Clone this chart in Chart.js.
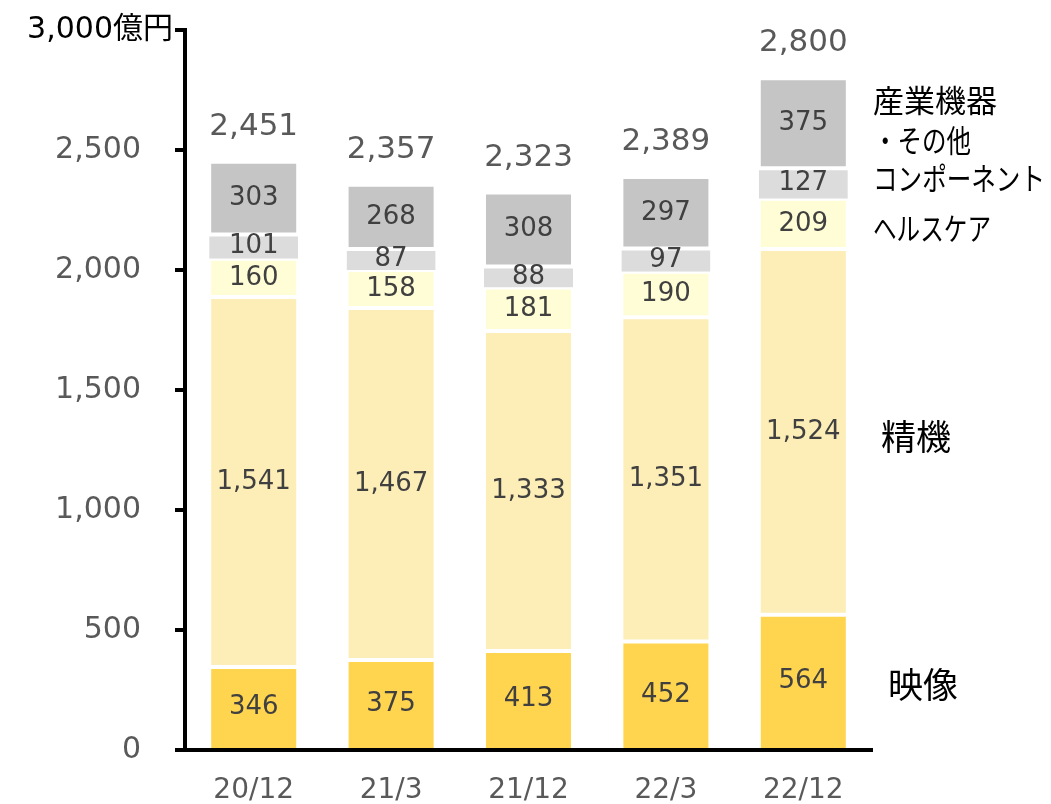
<!DOCTYPE html>
<html>
<head>
<meta charset="utf-8">
<script src="https://cdn.jsdelivr.net/npm/chart.js@4"></script>
<style>
  body { margin: 0; background: #fff; }
  #wrap { width: 1051px; height: 804px; position: relative; }
</style>
</head>
<body>
<div id="wrap"><canvas id="myChart"></canvas></div>
<script>
var categories = ['20/12', '21/3', '21/12', '22/3', '22/12'];
var eizo = [346, 375, 413, 452, 564];
var seiki = [1541, 1467, 1333, 1351, 1524];
var health = [160, 158, 181, 190, 209];
var component = [101, 87, 88, 97, 127];
var sangyo = [303, 268, 308, 297, 375];
var totals = [2451, 2357, 2323, 2389, 2800];
var seriesNames = ['映像', '精機', 'ヘルスケア', 'コンポーネント', '産業機器\n・その他'];
var unitLabel = '3,000億円';

var latin = "'DejaVu Sans', 'Noto Sans CJK JP', sans-serif";
var jp = "'Noto Sans CJK JP', sans-serif";

function fmt(v) {
  return v.toLocaleString('en-US');
}

// right side names: font size, offsets, max widths per line
var nameStyle = [
  { size: 35, dx: 16, dy: 3, max: [76] },
  { size: 35, dx: 9, dy: 5, max: [76] },
  { size: 31, dx: 1, dy: 4, max: [118] },
  { size: 31, dx: 1, dy: -5, max: [172] },
  { size: 31, dx: 1, dy: -3, max: [126, 98] }
];

var labelPlugin = {
  id: 'labels',
  afterDraw: function(chart) {
    var ctx = chart.ctx;
    var yScale = chart.scales.y;
    ctx.save();
    ctx.textBaseline = 'middle';
    // unit label at the top tick
    ctx.textAlign = 'right';
    ctx.font = '30px ' + latin;
    ctx.fillStyle = '#000';
    ctx.fillText(unitLabel, yScale.right - 12, yScale.getPixelForValue(3000));
    // values inside the segments
    ctx.textAlign = 'center';
    ctx.font = '26px ' + latin;
    ctx.fillStyle = '#404040';
    chart.data.datasets.forEach(function(ds, di) {
      var meta = chart.getDatasetMeta(di);
      meta.data.forEach(function(bar, i) {
        ctx.fillText(fmt(ds.data[i]), bar.x, (bar.y + bar.base) / 2);
      });
    });
    // totals on top
    ctx.font = '31px ' + latin;
    ctx.fillStyle = '#595959';
    var top = chart.getDatasetMeta(chart.data.datasets.length - 1);
    top.data.forEach(function(bar, i) {
      ctx.fillText(fmt(totals[i]), bar.x, bar.y - 35);
    });
    // series names at right of the last bar
    ctx.fillStyle = '#000';
    ctx.textAlign = 'left';
    var last = categories.length - 1;
    chart.data.datasets.forEach(function(ds, di) {
      var st = nameStyle[di];
      ctx.font = st.size + 'px ' + jp;
      var bar = chart.getDatasetMeta(di).data[last];
      var cy = (bar.y + bar.base) / 2 + st.dy;
      var lines = seriesNames[di].split('\n');
      var x = chart.chartArea.right + st.dx;
      lines.forEach(function(t, k) {
        ctx.fillText(t, x, cy + (k - (lines.length - 1) / 2) * 40, st.max[k]);
      });
    });
    ctx.restore();
  }
};

var white = '#ffffff';
var canvas = document.getElementById('myChart');
var ctx = canvas.getContext('2d');
var config = {
  type: 'bar',
  data: {
    labels: categories,
    datasets: [
      { label: '映像', data: eizo, backgroundColor: '#FFD54F',
        borderColor: white, borderWidth: { top: 2, left: 2, right: 2, bottom: 0 } },
      { label: '精機', data: seiki, backgroundColor: '#FDEDB7',
        borderColor: white, borderWidth: 2 },
      { label: 'ヘルスケア', data: health, backgroundColor: '#FFFDD6',
        borderColor: white, borderWidth: 2 },
      { label: 'コンポーネント', data: component, backgroundColor: '#DCDCDC',
        borderColor: white, borderWidth: { top: 2, left: 0, right: 0, bottom: 0 } },
      { label: '産業機器・その他', data: sangyo, backgroundColor: '#C5C5C5',
        borderColor: white, borderWidth: 2 }
    ]
  },
  options: {
    responsive: true,
    maintainAspectRatio: false,
    animation: false,
    layout: { padding: { top: 30, right: 179, left: 0, bottom: 0 } },
    datasets: {
      bar: { barPercentage: 0.648, categoryPercentage: 1, borderSkipped: false }
    },
    plugins: {
      legend: { display: false },
      tooltip: { enabled: false }
    },
    scales: {
      x: {
        stacked: true,
        grid: { display: false },
        border: { display: true, color: '#000', width: 4 },
        ticks: {
          color: '#595959',
          font: { family: latin, size: 28 },
          padding: 16
        },
        afterFit: function(s) { s.height = 54; }
      },
      y: {
        stacked: true,
        min: 0,
        max: 3000,
        grid: { drawOnChartArea: false, drawTicks: true, tickLength: 10, color: '#000', lineWidth: 4 },
        border: { display: true, color: '#000', width: 4 },
        ticks: {
          stepSize: 500,
          padding: 34,
          font: { family: latin, size: 30 },
          color: '#595959',
          callback: function(v) { return v === 3000 ? '' : fmt(v); }
        },
        afterFit: function(s) {
          s.width = 185;
          s.paddingTop = 18;
          s.paddingBottom = 18;
        }
      }
    }
  },
  plugins: [labelPlugin]
};

var chart = new Chart(ctx, config);
</script>
</body>
</html>
